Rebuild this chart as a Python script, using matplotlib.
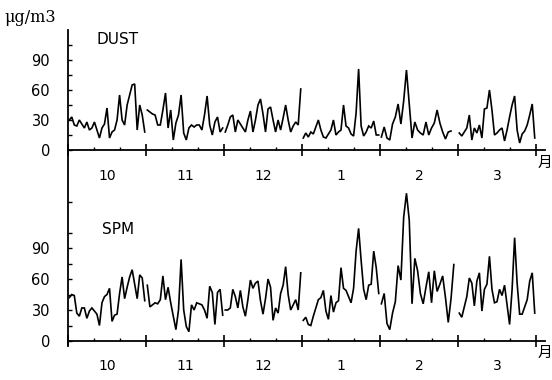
import matplotlib
matplotlib.use('Agg')
import matplotlib.pyplot as plt
from matplotlib.lines import Line2D
import numpy as np

plt.rcParams['font.family'] = ['Liberation Sans Narrow', 'DejaVu Sans', 'Noto Sans CJK JP']

# ---------------- data ----------------
months = ['10', '11', '12', '1', '2', '3']
month_days = [31, 30, 31, 31, 28, 31]
unit_label = 'μg/m3'
month_suffix = '月'
y_tick_labels = [0, 30, 60, 90]

dust_oct = [30, 33, 25, 24, 30, 26, 22, 28, 20, 22, 28, 20, 12, 22, 26, 42, 12, 18, 20, 30,
            55, 30, 25, 45, 55, 65, 66, 20, 45, 35, 18]
dust_nov = [40, 38, 36, 35, 25, 25, 40, 57, 22, 40, 10, 27, 35, 55, 17, 10, 22, 25, 23, 25,
            25, 20, 35, 54, 25, 15, 28, 33, 18, 22]
dust_dec = [18, 25, 33, 35, 18, 30, 26, 22, 18, 30, 39, 18, 30, 45, 51, 36, 18, 41, 43, 30,
            18, 30, 20, 32, 45, 30, 18, 24, 28, 25, 61]
dust_jan = [12, 17, 13, 18, 16, 23, 30, 20, 13, 12, 16, 20, 30, 15, 18, 20, 45, 24, 22, 16,
            14, 37, 81, 24, 14, 18, 24, 22, 29, 15, 15]
dust_feb = [13, 23, 12, 10, 26, 33, 46, 26, 49, 80, 46, 12, 28, 20, 17, 15, 28, 15, 22, 27,
            40, 27, 18, 11, 18, 19]
dust_mar = [17, 14, 18, 22, 35, 10, 22, 17, 25, 12, 41, 42, 60, 40, 15, 17, 20, 22, 9, 20,
            33, 45, 54, 20, 7, 16, 19, 25, 35, 46, 12]

spm_oct = [42, 45, 44, 27, 24, 32, 32, 22, 29, 32, 29, 26, 15, 37, 43, 45, 51, 19, 25, 26,
           46, 62, 41, 52, 62, 69, 55, 41, 64, 61, 39]
spm_nov = [54, 33, 35, 37, 36, 40, 63, 40, 52, 37, 24, 11, 30, 79, 30, 14, 9, 35, 30, 37,
           36, 35, 30, 22, 53, 47, 16, 47, 50, 25]
spm_dec = [30, 30, 32, 50, 43, 32, 49, 33, 24, 40, 59, 51, 56, 58, 39, 26, 41, 60, 52, 20,
           32, 27, 46, 54, 72, 45, 30, 35, 40, 30, 66]
spm_jan = [20, 23, 16, 15, 24, 32, 40, 42, 49, 29, 21, 44, 28, 37, 39, 71, 51, 49, 43, 37,
           51, 87, 109, 78, 50, 40, 54, 55, 87, 71, 46]
spm_feb = [36, 46, 17, 11, 27, 38, 73, 59, 120, 143, 117, 36, 80, 68, 46, 36, 52, 67, 37, 68,
           48, 55, 63, 42, 18, 41, 74]
spm_mar = [27, 23, 33, 43, 61, 56, 34, 58, 66, 29, 50, 55, 82, 50, 37, 38, 50, 44, 54, 35,
           16, 50, 100, 56, 26, 26, 33, 40, 58, 66, 27]

dust = [dust_oct, dust_nov, dust_dec, dust_jan, dust_feb, dust_mar]
spm = [spm_oct, spm_nov, spm_dec, spm_jan, spm_feb, spm_mar]

# ---------------- figure ----------------
W, H = 552, 380
fig = plt.figure(figsize=(W / 100, H / 100), dpi=100)
fig.patch.set_facecolor('white')

PX_PER_MONTH = 78.0
X0, X1 = 68, 545


def px_axes(y_top, y_zero):
    return fig.add_axes([X0 / W, (H - y_zero) / H, (X1 - X0) / W, (y_zero - y_top) / H])


panels = [
    dict(ax=px_axes(30, 150), data=dust, ymax=120, title='DUST', tpos=(97, 40),
         lab_off=-26, suf_off=-13),
    dict(ax=px_axes(180, 341), data=spm, ymax=161 / 1.033, title='SPM', tpos=(102, 230),
         lab_off=-25, suf_off=-12),
]

for p in panels:
    ax = p['ax']
    ax.set_facecolor('none')
    for m, vals in enumerate(p['data']):
        x = m + (np.arange(len(vals)) + 0.5) / month_days[m]
        ax.plot(x, vals, color='black', lw=1.2, solid_joinstyle='miter')
    ax.set_xlim(0, (X1 - X0) / PX_PER_MONTH)
    ax.set_ylim(0, p['ymax'])
    for s in ['top', 'right', 'left']:
        ax.spines[s].set_visible(False)
    ax.spines['bottom'].set_linewidth(1.3)

    ax.set_xticks(range(7))
    ax.set_xticks([m + k / 3 for m in range(6) for k in (1, 2)], minor=True)
    ax.tick_params(axis='x', which='major', direction='inout', length=9, width=1.2,
                   labelbottom=False)
    ax.tick_params(axis='x', which='minor', direction='in', length=2.5, width=1.0)

    ax.set_yticks(y_tick_labels)
    ax.set_yticklabels([str(v) for v in y_tick_labels])
    ax.set_yticks(np.arange(15, p['ymax'], 30), minor=True)
    ax.tick_params(axis='y', which='major', direction='in', length=3, width=1.0,
                   pad=13, labelsize=10.5)
    ax.tick_params(axis='y', which='minor', direction='in', length=3, width=1.0)

    for m, lab in enumerate(months):
        ax.annotate(lab, xy=(m + 0.5, 0), xytext=(0, p['lab_off'] * 0.72),
                    textcoords='offset points', ha='center', va='center', fontsize=10)
    ax.annotate(month_suffix, xy=(6.0, 0), xytext=(9 * 0.72, p['suf_off'] * 0.72),
                textcoords='offset points', ha='center', va='center', fontsize=10.5,
                family=['Noto Sans CJK JP', 'DejaVu Sans'])

    fig.text(p['tpos'][0] / W, 1 - p['tpos'][1] / H, p['title'], ha='left', va='center',
             fontsize=11, family=['DejaVu Sans'])

# continuous vertical axis line shared by both panels
fig.add_artist(Line2D([X0 / W, X0 / W], [1 - 30 / H, 1 - 345 / H],
                      transform=fig.transFigure, color='black', lw=1.3))

fig.text(4 / W, 1 - 17 / H, unit_label, ha='left', va='center', fontsize=11.5,
         family=['DejaVu Serif'])

fig.savefig('out.png', dpi=100, facecolor='white')
